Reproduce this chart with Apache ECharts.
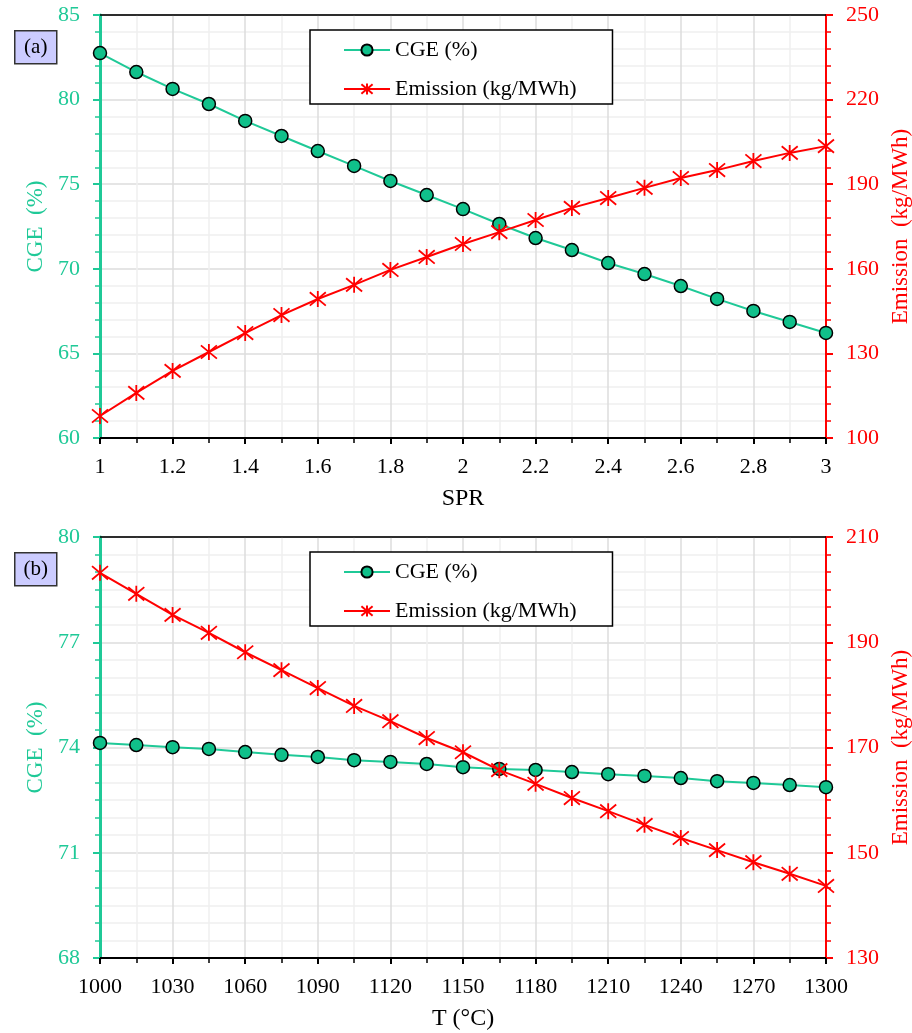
<!DOCTYPE html>
<html>
<head>
<meta charset="utf-8">
<script src="https://cdn.jsdelivr.net/npm/echarts@6/dist/echarts.min.js"></script>
<style>
html, body { margin: 0; padding: 0; background: #fff; }
#chart { width: 912px; height: 1033px; }
</style>
</head>
<body>
<div id="chart"></div>
<script>
// panel (a): SPR sweep
var sprList = [1, 1.1, 1.2, 1.3, 1.4, 1.5, 1.6, 1.7, 1.8, 1.9, 2, 2.1, 2.2, 2.3, 2.4, 2.5, 2.6, 2.7, 2.8, 2.9, 3];
var cgeA = [82.75, 81.63, 80.63, 79.74, 78.74, 77.85, 76.96, 76.08, 75.19, 74.36, 73.53, 72.65, 71.82, 71.11, 70.34, 69.69, 68.98, 68.22, 67.51, 66.86, 66.21];
var emisA = [107.8, 116.0, 123.8, 130.5, 137.2, 143.6, 149.3, 154.3, 159.6, 164.2, 168.8, 173.0, 177.3, 181.6, 185.1, 188.7, 192.2, 195.0, 198.2, 201.1, 203.5];

// panel (b): temperature sweep
var tempList = [1000, 1015, 1030, 1045, 1060, 1075, 1090, 1105, 1120, 1135, 1150, 1165, 1180, 1195, 1210, 1225, 1240, 1255, 1270, 1285, 1300];
var cgeB = [74.13, 74.07, 74.01, 73.96, 73.87, 73.79, 73.73, 73.64, 73.59, 73.53, 73.44, 73.39, 73.36, 73.30, 73.24, 73.19, 73.13, 73.04, 72.99, 72.93, 72.87];
var emisB = [203.2, 199.2, 195.2, 191.8, 188.1, 184.7, 181.3, 177.9, 175.0, 171.8, 169.1, 165.7, 163.1, 160.4, 157.9, 155.3, 152.8, 150.5, 148.2, 146.0, 143.7];

var green = '#1fc997';
var red = '#ff0000';
var font = '"Liberation Serif", "Times New Roman", serif';
var crossPath = 'path://M0,0L10,10M10,0L0,10M5,-1L5,11';

function pairs(xs, ys) {
	var out = [];
	for (var i = 0; i < xs.length; i++) {
		out.push([xs[i], ys[i]]);
	}
	return out;
}

function plain(v) {
	return String(Math.round(v * 100) / 100);
}

function xAxisDef(gi, min, max, interval, name) {
	return {
		type : 'value',
		gridIndex : gi,
		min : min,
		max : max,
		interval : interval,
		name : name,
		nameLocation : 'middle',
		nameGap : 49,
		nameTextStyle : { fontFamily : font, fontSize : 24, color : '#000' },
		axisLine : { lineStyle : { color : '#000', width : 2 } },
		axisTick : { show : true, length : 6, lineStyle : { color : '#000', width : 2 } },
		minorTick : { show : true, splitNumber : 2, length : 5, lineStyle : { color : '#000', width : 1.5 } },
		axisLabel : { fontFamily : font, fontSize : 22, color : '#000', margin : 18, formatter : plain },
		splitLine : { show : true, lineStyle : { color : '#dcdcdc', width : 1.5 } },
		minorSplitLine : { show : true, lineStyle : { color : '#efefef', width : 1.5 } }
	};
}

function yAxisDef(gi, pos, min, max, interval, minorSplit, name, color, gap, grid) {
	return {
		type : 'value',
		gridIndex : gi,
		position : pos,
		min : min,
		max : max,
		interval : interval,
		name : name,
		nameLocation : 'middle',
		nameGap : gap,
		nameTextStyle : { fontFamily : font, fontSize : 23, color : color },
		axisLine : { show : true, lineStyle : { color : color, width : pos == 'left' ? 3 : 2 } },
		axisTick : { show : true, length : 7, lineStyle : { color : color, width : 2 } },
		minorTick : { show : true, splitNumber : minorSplit, length : 5, lineStyle : { color : color, width : 1.5 } },
		axisLabel : { fontFamily : font, fontSize : 22, color : color, margin : 20 },
		splitLine : { show : grid, lineStyle : { color : '#dcdcdc', width : 1.5 } },
		minorSplitLine : { show : grid, lineStyle : { color : '#efefef', width : 1.5 } }
	};
}

function cgeSeries(xi, yi, data) {
	return {
		name : 'CGE (%)',
		type : 'line',
		xAxisIndex : xi,
		yAxisIndex : yi,
		data : data,
		symbol : 'circle',
		symbolSize : 13,
		lineStyle : { color : green, width : 2 },
		itemStyle : { color : '#10c08a', borderColor : '#000', borderWidth : 1.5 },
		z : 3
	};
}

function emisSeries(xi, yi, data) {
	return {
		name : 'Emission (kg/MWh)',
		type : 'line',
		xAxisIndex : xi,
		yAxisIndex : yi,
		data : data,
		symbol : crossPath,
		symbolSize : 16,
		lineStyle : { color : red, width : 2 },
		itemStyle : { color : red, borderColor : red, borderWidth : 1.8 },
		z : 4
	};
}

function legendDef(top) {
	return {
		orient : 'vertical',
		left : 310,
		top : top,
		data : ['CGE (%)', 'Emission (kg/MWh)'],
		itemWidth : 46,
		itemHeight : 14,
		itemGap : 17,
		padding : [9, 36, 4, 33],
		borderColor : '#000',
		borderWidth : 1.5,
		backgroundColor : '#fff',
		textStyle : { fontFamily : font, fontSize : 22, color : '#000' }
	};
}

function tagDef(top, text) {
	return {
		type : 'group',
		left : 14,
		top : top,
		children : [
			{
				type : 'rect',
				shape : { x : 0, y : 0, width : 42, height : 33 },
				style : { fill : '#ccccff', stroke : '#333', lineWidth : 1.5 }
			},
			{
				type : 'text',
				x : 21,
				y : 17,
				style : { text : text, fontFamily : font, fontSize : 21, fill : '#000', align : 'center', verticalAlign : 'middle' }
			}
		]
	};
}

// black top frame edge, drawn over the grey split line
function topEdge(y) {
	return {
		type : 'line',
		shape : { x1 : 100, y1 : y, x2 : 826, y2 : y },
		style : { stroke : '#000', lineWidth : 1.5 },
		z : 10
	};
}

var myChart = echarts.init(document.getElementById('chart'));
var option = {
	backgroundColor : '#fff',
	animation : false,
	grid : [
		{ left : 100, right : 86, top : 15, height : 423, show : true, borderColor : '#000', borderWidth : 1.5, containLabel : false, outerBoundsMode : 'none' },
		{ left : 100, right : 86, top : 537, height : 421, show : true, borderColor : '#000', borderWidth : 1.5, containLabel : false, outerBoundsMode : 'none' }
	],
	xAxis : [
		xAxisDef(0, 1, 3, 0.2, 'SPR'),
		xAxisDef(1, 1000, 1300, 30, 'T (°C)')
	],
	yAxis : [
		yAxisDef(0, 'left', 60, 85, 5, 5, 'CGE  (%)', green, 49, true),
		yAxisDef(0, 'right', 100, 250, 30, 5, 'Emission  (kg/MWh)', red, 57, false),
		yAxisDef(1, 'left', 68, 80, 3, 6, 'CGE  (%)', green, 49, true),
		yAxisDef(1, 'right', 130, 210, 20, 6, 'Emission  (kg/MWh)', red, 57, false)
	],
	legend : [legendDef(30), legendDef(552)],
	graphic : [topEdge(15), topEdge(537), tagDef(30, '(a)'), tagDef(552, '(b)')],
	series : [
		cgeSeries(0, 0, pairs(sprList, cgeA)),
		emisSeries(0, 1, pairs(sprList, emisA)),
		cgeSeries(1, 2, pairs(tempList, cgeB)),
		emisSeries(1, 3, pairs(tempList, emisB))
	]
};
myChart.setOption(option);
window.onresize = myChart.resize;
</script>
</body>
</html>
